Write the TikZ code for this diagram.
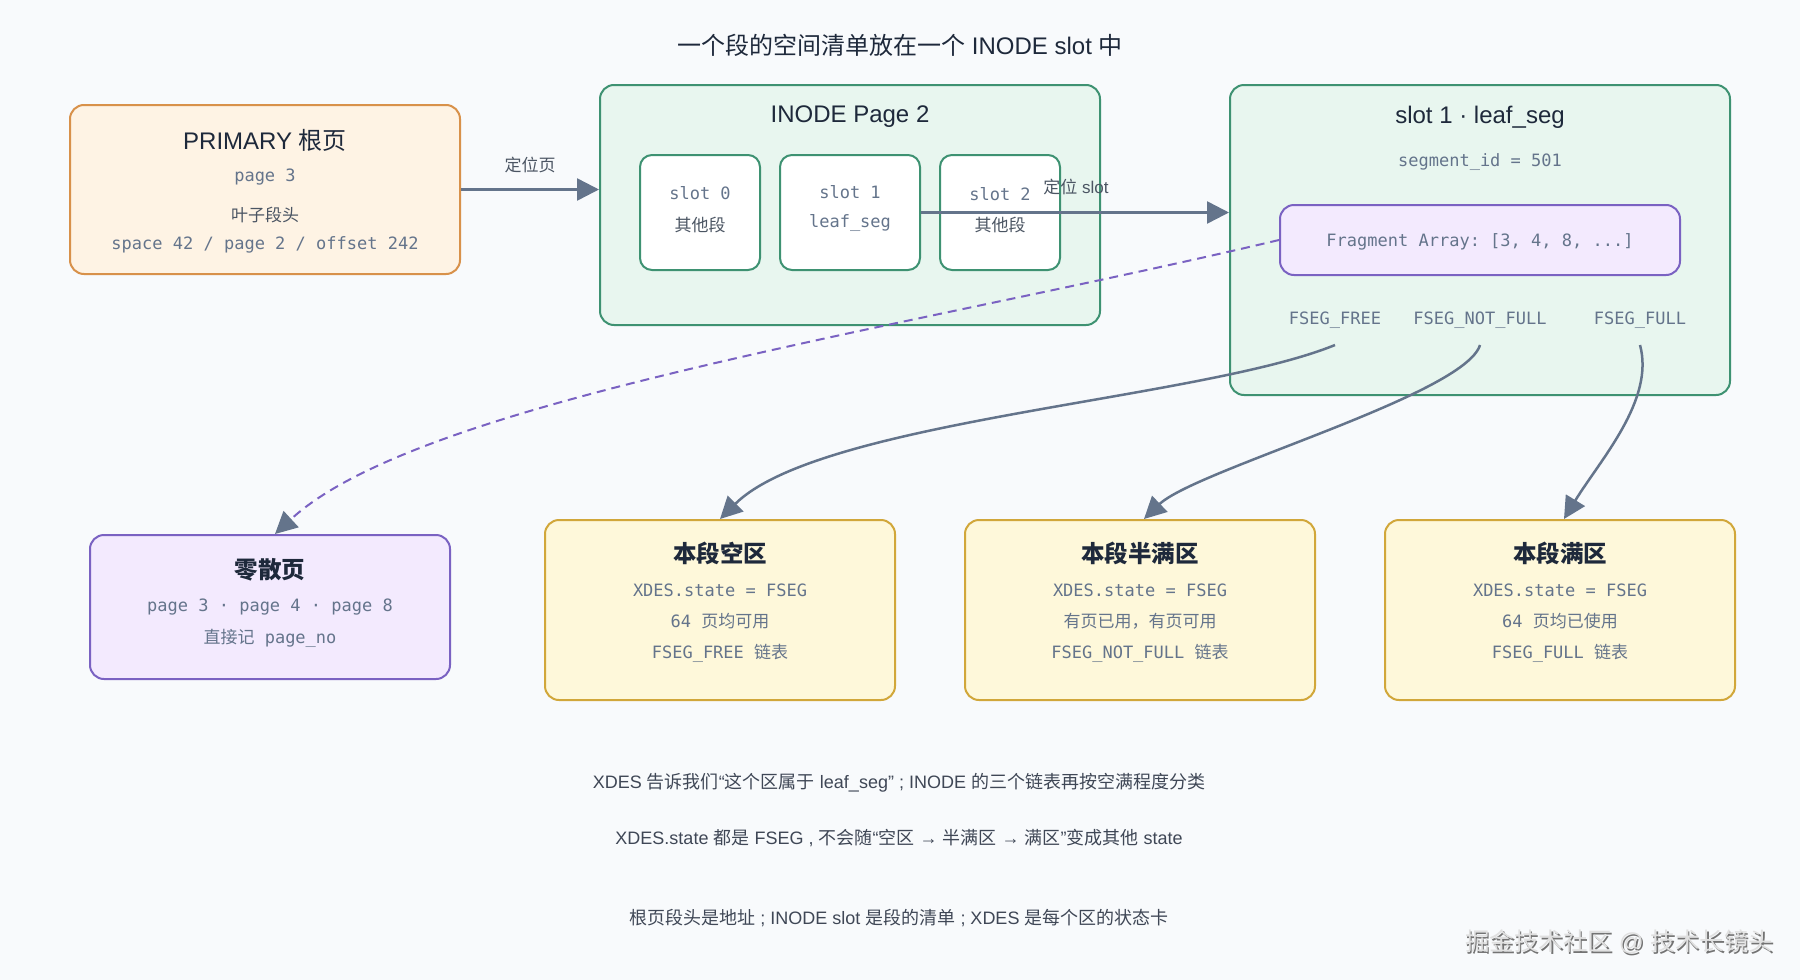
\documentclass[tikz,border=0pt]{standalone}
\usepackage{fontspec}
\setmainfont{Liberation Sans}
\setmonofont{DejaVu Sans Mono}
\newfontfamily\cjk{Noto Sans CJK SC}
\usetikzlibrary{arrows.meta}
\definecolor{bgC}{HTML}{F8FAFC}
\definecolor{titleC}{HTML}{1E293B}
\definecolor{grayC}{HTML}{64748B}
\definecolor{grayD}{HTML}{4B5563}
\definecolor{arrowC}{HTML}{64748B}
\definecolor{orangeB}{HTML}{D8914A}
\definecolor{orangeF}{HTML}{FEF3E4}
\definecolor{greenB}{HTML}{3E9272}
\definecolor{greenF}{HTML}{E8F6EF}
\definecolor{purpleB}{HTML}{7A62C2}
\definecolor{purpleF}{HTML}{F3EAFE}
\definecolor{yellowB}{HTML}{D1A73A}
\definecolor{yellowF}{HTML}{FEF8DA}
\definecolor{textC}{HTML}{3F4756}
\newcommand\zh[1]{{\cjk #1}}
\tikzset{
  box/.style={draw, rounded corners=14pt, line width=2pt, inner sep=0pt},
  obox/.style={box, draw=orangeB, fill=orangeF},
  gbox/.style={box, draw=greenB, fill=greenF},
  wbox/.style={box, rounded corners=12pt, draw=greenB, fill=white},
  pbox/.style={box, draw=purpleB, fill=purpleF},
  ybox/.style={box, draw=yellowB, fill=yellowF},
  ttl/.style={inner sep=0pt, font=\fontsize{24}{27}\selectfont, text=titleC},
  bttl/.style={inner sep=0pt, font=\fontsize{23.5}{27}\selectfont\cjk\bfseries, text=titleC},
  mono/.style={inner sep=0pt, font=\fontsize{17}{20}\selectfont\ttfamily, text=grayC},
  zhlbl/.style={inner sep=0pt, font=\fontsize{17}{20}\selectfont\cjk, text=grayD},
  arrlbl/.style={inner sep=0pt, font=\fontsize{17}{20}\selectfont, text=grayD},
  note/.style={inner sep=0pt, font=\fontsize{18}{21}\selectfont, text=textC},
  arr/.style={draw=arrowC, line width=2.5pt, -{Triangle[length=22pt,width=22pt]}},
  dasharr/.style={draw=purpleB, line width=2pt, dash pattern=on 9pt off 6pt,
    -{Triangle[length=22pt,width=22pt,color=arrowC]}},
}
\begin{document}
\begin{tikzpicture}[x=1pt,y=-1pt]
\useasboundingbox[fill=bgC] (0,0) rectangle (1800,980);

% title
\node[ttl] (title) at (900,45) {\zh{一个段的空间清单放在一个} INODE slot \zh{中}};

% PRIMARY
\node[obox, minimum width=390pt, minimum height=169pt] (primary) at (265,189.5) {};
\node[ttl] (ptitle) at (265,140) {PRIMARY \zh{根页}};
\node[mono] (ppage) at (265,177) {page 3};
\node[zhlbl] (phead) at (265,215) {叶子段头};
\node[mono] (paddr) at (265,245) {space 42 / page 2 / offset 242};

% INODE page
\node[gbox, minimum width=500pt, minimum height=240pt] (inode) at (850,205) {};
\node[ttl] (ititle) at (850,117) {INODE Page 2};
\node[wbox, minimum width=120pt, minimum height=115pt] (slot0) at (700,212.5) {};
\node[wbox, minimum width=140pt, minimum height=115pt] (slot1) at (850,212.5) {};
\node[wbox, minimum width=120pt, minimum height=115pt] (slot2) at (1000,212.5) {};
\node[mono] (s0a) at (700,193) {slot 0};
\node[zhlbl] (s0b) at (700,225) {其他段};
\node[mono] (s1a) at (850,192) {slot 1};
\node[mono] (s1b) at (850,223) {leaf\_seg};
\node[mono] (s2a) at (1000,194) {slot 2};
\node[zhlbl] (s2b) at (1000,225) {其他段};

% slot 1 detail
\node[gbox, minimum width=500pt, minimum height=310pt] (leafseg) at (1480,240) {};
\node[ttl] (ltitle) at (1480,117) {slot 1 · leaf\_seg};
\node[mono] (lid) at (1480,162) {segment\_id = 501};
\node[pbox, minimum width=400pt, minimum height=70pt] (frag) at (1480,240) {};
\node[mono] (fragt) at (1480,242) {Fragment Array: [3, 4, 8, ...]};
\node[mono] (lfree) at (1335,320) {FSEG\_FREE};
\node[mono] (lnot) at (1480,320) {FSEG\_NOT\_FULL};
\node[mono] (lfull) at (1640,320) {FSEG\_FULL};

% scatter pages
\node[pbox, minimum width=360pt, minimum height=144pt] (scatter) at (270,607) {};
\node[bttl] (sct) at (270,570) {零散页};
\node[mono] (sc1) at (270,607) {page 3 · page 4 · page 8};
\node[mono] (sc2) at (270,638) {\zh{直接记} page\_no};

% extents
\node[ybox, minimum width=350pt, minimum height=180pt] (free) at (720,610) {};
\node[bttl] (frt) at (720,553) {本段空区};
\node[mono] (fr1) at (720,590) {XDES.state = FSEG};
\node[mono] (fr2) at (720,621) {64 \zh{页均可用}};
\node[mono] (fr3) at (720,653) {FSEG\_FREE \zh{链表}};

\node[ybox, minimum width=350pt, minimum height=180pt] (notfull) at (1140,610) {};
\node[bttl] (nft) at (1140,553) {本段半满区};
\node[mono] (nf1) at (1140,590) {XDES.state = FSEG};
\node[mono] (nf2) at (1140,621) {\zh{有页已用，有页可用}};
\node[mono] (nf3) at (1140,653) {FSEG\_NOT\_FULL \zh{链表}};

\node[ybox, minimum width=350pt, minimum height=180pt] (full) at (1560,610) {};
\node[bttl] (fut) at (1560,553) {本段满区};
\node[mono] (fu1) at (1560,590) {XDES.state = FSEG};
\node[mono] (fu2) at (1560,621) {64 \zh{页均已使用}};
\node[mono] (fu3) at (1560,653) {FSEG\_FULL \zh{链表}};

% connectors
\draw[arr] (primary.east) -- (primary.east -| inode.west);
\node[arrlbl] (l1) at (530,165) {\zh{定位页}};
\draw[arr] (slot1.east) -- (slot1.east -| leafseg.west);
\node[arrlbl] (l2) at (1076,187) {\zh{定位} slot};

\draw[dasharr] (frag.west) .. controls (900,330) and (420,400) .. ([xshift=5pt]scatter.north);

\coordinate (cfree) at (1335,345);
\coordinate (cnot) at (1480,345);
\coordinate (cfull) at (1640,345);
\draw[arr] (cfree) .. controls (1200,400) and (820,420) .. (free.north);
\draw[arr] (cnot) .. controls (1465,395) and (1195,470) .. ([xshift=4pt]notfull.north);
\draw[arr] (cfull) .. controls (1655,400) and (1600,460) .. ([xshift=4pt]full.north);

% notes
\node[note] (n1) at (899,783) {XDES \zh{告诉我们}“\zh{这个区属于} leaf\_seg” ; INODE \zh{的三个链表再按空满程度分类}};
\node[note] (n2) at (899,838) {XDES.state \zh{都是} FSEG , \zh{不会随}“\zh{空区} → \zh{半满区} → \zh{满区}”\zh{变成其他} state};
\node[note] (n3) at (899,918) {\zh{根页段头是地址} ; INODE slot \zh{是段的清单} ; XDES \zh{是每个区的状态卡}};

% watermark
\node[inner sep=0pt, font=\fontsize{24.5}{28}\selectfont, text=black!55] (wms) at (1620.5,943.5) {\zh{掘金技术社区} @ \zh{技术长镜头}};
\node[inner sep=0pt, font=\fontsize{24.5}{28}\selectfont, text=black!12] (wm) at (1619,942) {\zh{掘金技术社区} @ \zh{技术长镜头}};
\end{tikzpicture}
\end{document}
